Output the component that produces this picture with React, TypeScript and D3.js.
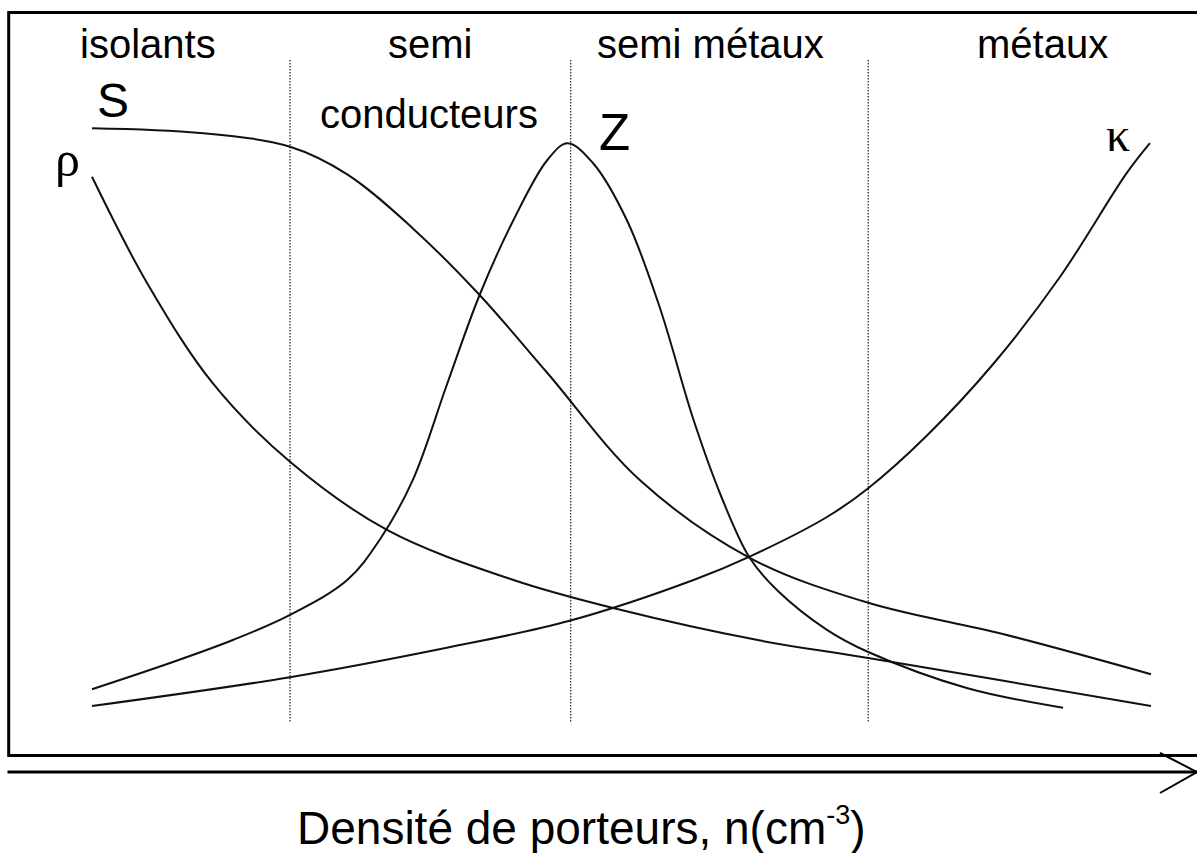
import React from "react";
import * as d3 from "d3";

// Abstract units: x = carrier density (0..100, log-like), y = relative magnitude (0..100)
const regionLabels = ["isolants", "semi", "semi métaux", "métaux"];
const regionBounds = [18.7, 45.2, 73.3];

const seriesS: [number, number][] = [
  [0, 100.3], [10.2, 99.5], [18.7, 97.2], [24.1, 92.6], [30.3, 83.6], [36.6, 72.5],
  [43.0, 59.5], [51.7, 41.7], [62.1, 28.7], [73.3, 21.2], [86.0, 16.0], [100, 9.3],
];
const seriesRho: [number, number][] = [
  [0, 92.2], [5.2, 74.5], [11.4, 57.8], [18.7, 44.7], [27.9, 33.3], [39.8, 25.0],
  [49.5, 20.2], [63.1, 14.9], [73.3, 12.0], [100, 4.0],
];
const seriesZ: [number, number][] = [
  [0, 6.8], [7.1, 11.0], [13.3, 15.0], [18.7, 19.2], [24.1, 25.0], [27.2, 31.8], [30.3, 41.7],
  [33.5, 57.5], [36.6, 72.5], [39.8, 85.0], [43.0, 95.0], [44.9, 97.8],
  [47.3, 94.5], [50.5, 85.0], [53.6, 70.5], [56.8, 51.7], [59.4, 39.0], [62.1, 28.7],
  [64.7, 23.3], [69.4, 16.7], [73.3, 13.0], [82.6, 7.0], [91.7, 3.7],
];
const seriesKappa: [number, number][] = [
  [0, 4.0], [18.7, 8.8], [33.5, 13.7], [45.1, 18.2], [56.8, 25.0], [62.1, 28.9],
  [69.4, 35.5], [73.3, 40.3], [78.8, 49.0], [85.1, 61.0], [91.4, 75.5], [97.7, 92.8],
  [99.9, 97.8],
];

const W = 1197;
const H = 853;

export default function App() {
  const x = d3.scaleLinear().domain([0, 100]).range([92, 1151]);
  const y = d3.scaleLinear().domain([0, 100]).range([730, 130]);
  const line = d3
    .line<[number, number]>()
    .x((d) => x(d[0]))
    .y((d) => y(d[1]))
    .curve(d3.curveCatmullRom.alpha(0.5));

  const sans = "'Liberation Sans', Arial, sans-serif";
  const serif = "'Liberation Serif', 'Times New Roman', serif";
  const curves = [seriesS, seriesRho, seriesZ, seriesKappa];

  return (
    <svg
      width={W}
      height={H}
      viewBox={`0 0 ${W} ${H}`}
      style={{ position: "fixed", left: 0, top: 0, background: "#fff" }}
    >
      <rect x={0} y={0} width={W} height={H} fill="#fff" />
      {/* frame */}
      <path d={`M1200,12.5 L8.7,12.5 L8.7,755.5 L1200,755.5`} fill="none" stroke="#000" strokeWidth={3} />
      {/* axis arrow */}
      <line x1={7.5} y1={772} x2={1197} y2={772} stroke="#000" strokeWidth={3} />
      <path d="M1160,753 L1197,772 L1160,793" fill="none" stroke="#000" strokeWidth={2} />

      {/* region separators */}
      {regionBounds.map((b, i) => (
        <line
          key={i}
          x1={x(b)}
          x2={x(b)}
          y1={60}
          y2={723}
          stroke="#222"
          strokeWidth={1.2}
          strokeDasharray="1.5,1.5"
        />
      ))}

      {/* curves */}
      {curves.map((c, i) => (
        <path key={i} d={line(c) || ""} fill="none" stroke="#111" strokeWidth={2} />
      ))}

      {/* region labels */}
      <g fontFamily={sans} fontSize={40} fill="#000">
        <text x={80} y={58}>{regionLabels[0]}</text>
        <text x={388} y={58}>{regionLabels[1]}</text>
        <text x={320} y={128}>conducteurs</text>
        <text x={597} y={58}>{regionLabels[2]}</text>
        <text x={977} y={58}>{regionLabels[3]}</text>
      </g>

      {/* curve labels */}
      <text x={97} y={117} fontFamily={sans} fontSize={48}>S</text>
      <text x={599} y={150} fontFamily={sans} fontSize={51}>Z</text>
      <text x={55} y={176} fontFamily={serif} fontSize={50}>ρ</text>
      <text x={1106} y={151} fontFamily={serif} fontSize={48}>κ</text>

      {/* axis title */}
      <text x={297} y={844} fontFamily={sans} fontSize={46} fill="#000">
        Densité de porteurs, n(cm
        <tspan fontSize={27} dy={-20}>-3</tspan>
        <tspan dy={20}>)</tspan>
      </text>
    </svg>
  );
}
